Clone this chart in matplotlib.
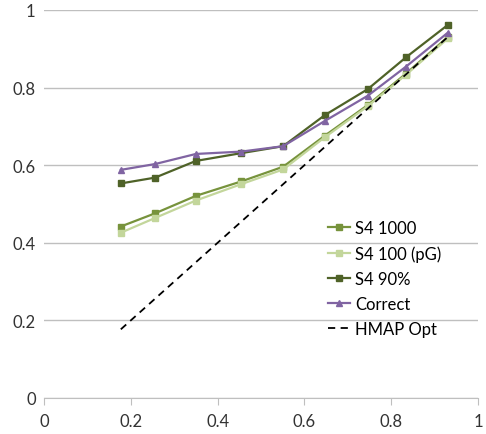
import matplotlib
matplotlib.use("Agg")
import matplotlib.pyplot as plt

x = [0.177, 0.256, 0.350, 0.454, 0.551, 0.647, 0.746, 0.834, 0.931]
s4_1000 = [0.442, 0.476, 0.521, 0.558, 0.596, 0.676, 0.755, 0.836, 0.931]
s4_100_pg = [0.426, 0.464, 0.509, 0.551, 0.589, 0.672, 0.752, 0.833, 0.927]
s4_90 = [0.553, 0.568, 0.611, 0.631, 0.649, 0.729, 0.796, 0.878, 0.962]
correct = [0.588, 0.603, 0.629, 0.635, 0.649, 0.714, 0.779, 0.854, 0.942]
hmap_x = [0.177, 0.931]
hmap_opt = [0.177, 0.931]

plt.rcParams["font.family"] = ["Lato", "DejaVu Sans"]

fig = plt.figure(figsize=(4.86, 4.35), dpi=100)
ax = fig.add_axes([44 / 486, 36 / 435, 434 / 486, 388 / 435])

ax.plot(x, s4_1000, color="#77933C", marker="s", ms=4, lw=1.6, label="S4 1000")
ax.plot(x, s4_100_pg, color="#C3D69B", marker="s", ms=4, lw=1.6, label="S4 100 (pG)")
ax.plot(x, s4_90, color="#4F6228", marker="s", ms=4, lw=1.6, label="S4 90%")
ax.plot(x, correct, color="#8064A2", marker="^", ms=4.5, lw=1.6, label="Correct")
ax.plot(hmap_x, hmap_opt, color="black", ls=(0, (4, 3)), lw=1.3, label="HMAP Opt")

ax.set_xlim(0, 1)
ax.set_ylim(0, 1)
ax.set_xticks([0, 0.2, 0.4, 0.6, 0.8, 1])
ax.set_xticklabels(["0", "0.2", "0.4", "0.6", "0.8", "1"])
ax.set_yticks([0, 0.2, 0.4, 0.6, 0.8, 1])
ax.set_yticklabels(["0", "0.2", "0.4", "0.6", "0.8", "1"])
ax.yaxis.grid(True, color="#BFBFBF", lw=1)
ax.set_axisbelow(True)
for s in ["top", "right", "left"]:
    ax.spines[s].set_visible(False)
ax.spines["bottom"].set_color("#BFBFBF")
ax.tick_params(axis="y", length=0, labelsize=12, pad=6, colors="#333333")
ax.tick_params(axis="x", length=5, color="#BFBFBF", direction="out",
               labelsize=12, pad=6, labelcolor="#333333")
ax.tick_params(axis="y", labelcolor="#333333")

ax.legend(loc="lower left", bbox_to_anchor=(0.64, 0.14), frameon=False,
          fontsize=12, handlelength=1.3, handletextpad=0.3, labelspacing=0.55,
          borderaxespad=0)

fig.savefig("out.png", dpi=100, facecolor="white")
